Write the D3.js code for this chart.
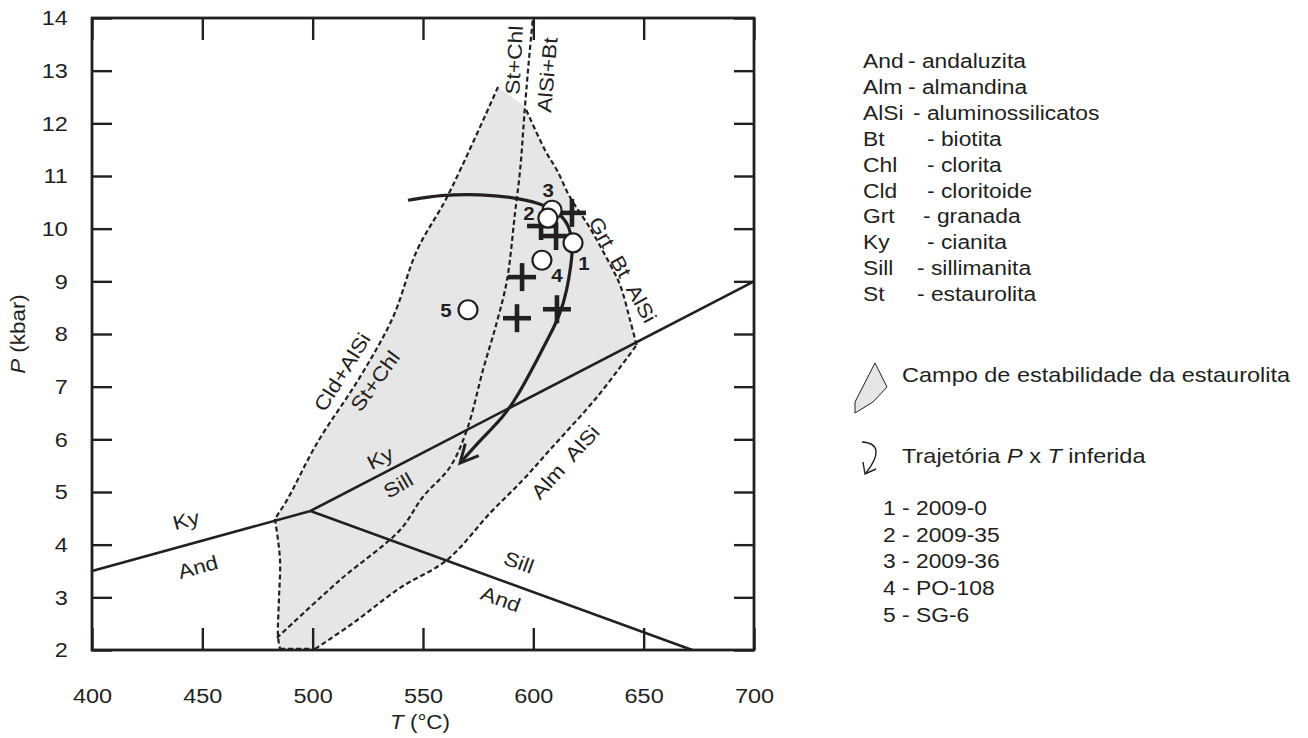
<!DOCTYPE html>
<html>
<head>
<meta charset="utf-8">
<script src="https://cdn.jsdelivr.net/npm/d3@7"></script>
<style>
  html, body { margin: 0; padding: 0; background: #fff; }
  svg text { font-family: "Liberation Sans", Arial, sans-serif; fill: #231f20; }
</style>
</head>
<body>
<svg id="chart" width="1308" height="738"></svg>
<script>
// axis ticks
const xTicks = [400, 450, 500, 550, 600, 650, 700];
const yTicks = [2, 3, 4, 5, 6, 7, 8, 9, 10, 11, 12, 13, 14];

// aluminosilicate reactions (T in °C, P in kbar)
const kyAnd = [[400, 3.5], [499, 4.64]];
const kySill = [[499, 4.64], [700, 9.0]];
const andSill = [[499, 4.64], [672, 2.0]];

// staurolite field boundaries
const cldUpper = [[584, 12.69], [560.9, 10.6], [547.3, 9.59], [536.4, 8.32], [521.4, 7.18], [502.0, 5.93], [488.4, 4.85], [482.9, 4.49]];
const cldLower = [[482.9, 4.49], [485.2, 3.71], [484.7, 2.95], [484.3, 2.25], [485.2, 2.02]];
const fieldBase = [[485.2, 2.02], [501.1, 2.02]];
const almAlsi = [[501.1, 2.02], [518.3, 2.51], [539.6, 3.18], [560.9, 3.71], [580.4, 4.6], [595.3, 5.23], [607.5, 5.8], [628.8, 6.8], [646.8, 7.79]];
const grtBtAlsi = [[646.8, 7.79], [643.8, 8.27], [639.3, 8.93], [632.5, 9.5], [625.7, 10.01], [616.6, 10.6], [610.7, 11.11], [605.3, 11.49], [596.2, 12.31]];
const stChl = [[483.8, 2.23], [512.4, 3.33], [539.6, 4.28], [550.0, 4.91], [562.2, 5.47], [569.9, 6.18], [577.2, 7.32], [583.5, 8.23], [588.1, 9.03], [591.7, 10.3], [594.0, 11.11], [596.2, 12.31], [598.0, 13.2], [599.8, 14.0]];

// inferred P-T path
const ptPath = [[543.2, 10.54], [557.7, 10.64], [575.8, 10.66], [594.0, 10.58], [605.3, 10.45], [613.0, 10.26], [616.6, 10.01], [618.0, 9.69], [617.1, 9.31], [615.3, 8.84], [612.1, 8.36], [607.5, 7.98], [601.7, 7.51], [592.6, 6.8], [586.3, 6.42], [577.2, 6.04], [566.8, 5.55]];

// crosses and samples
const crossPts = [[617.5, 10.30], [603.5, 10.05], [610.3, 9.86], [594.9, 9.08], [592.6, 8.30], [610.7, 8.47]];
const sampleIds = ["5", "4", "1", "3", "2"];
const sampleT = [570.4, 603.9, 618.0, 608.5, 606.6];
const sampleP = [8.46, 9.40, 9.73, 10.35, 10.20];
const sampleLabelOffset = [[-22, 0], [15, 15], [11, 20], [-4, -20], [-19, -5]];

// field labels
const fieldLabels = [
  { text: "St+Chl", T: 591.2, P: 13.20, rot: -87 },
  { text: "AlSi+Bt", T: 606.2, P: 12.92, rot: -85 },
  { text: "Grt  Bt  AlSi", T: 640.6, P: 9.22, rot: 61 },
  { text: "Cld+AlSi", T: 513.3, P: 7.28, rot: -58 },
  { text: "St+Chl", T: 528.2, P: 7.11, rot: -54 },
  { text: "Ky", T: 530.5, P: 5.65, rot: -27 },
  { text: "Sill", T: 538.7, P: 5.13, rot: -30 },
  { text: "Alm  AlSi", T: 614.4, P: 5.57, rot: -48 },
  { text: "Ky", T: 442.6, P: 4.47, rot: -15 },
  { text: "And", T: 448.0, P: 3.58, rot: -15 },
  { text: "Sill", T: 593.5, P: 3.67, rot: 20 },
  { text: "And", T: 585.3, P: 2.97, rot: 20 }
];

// legend
const legendAbbr = ["And", "Alm", "AlSi", "Bt", "Chl", "Cld", "Grt", "Ky", "Sill", "St"];
const legendName = ["andaluzita", "almandina", "aluminossilicatos", "biotita", "clorita", "cloritoide", "granada", "cianita", "sillimanita", "estaurolita"];
const legendDashX = [908, 908, 913, 927, 927, 927, 923, 927, 917, 917];
const sampleNames = ["2009-0", "2009-35", "2009-36", "PO-108", "SG-6"];

const INK = "#231f20";
const FIELD = "#e6e6e6";

const svg = d3.select("#chart");
const x = d3.scaleLinear().domain([400, 700]).range([92, 754]);
const y = d3.scaleLinear().domain([2, 14]).range([650, 18]);

const smooth = d3.line().x(d => x(d[0])).y(d => y(d[1])).curve(d3.curveCatmullRom.alpha(0.5));
const straight = d3.line().x(d => x(d[0])).y(d => y(d[1]));

// text drawn slightly wide, like the original lettering
function wideText(parent, px, py, size, stretch, rot) {
    return parent.append("text")
        .attr("transform", `translate(${px},${py}) rotate(${rot || 0}) scale(${stretch},1)`)
        .attr("font-size", size);
}

// field fill
function joinPaths(parts) {
    return parts.map((p, i) => i === 0 ? p : "L" + p.slice(1)).join("") + "Z";
}
svg.append("path")
    .attr("d", joinPaths([smooth(cldUpper), smooth(cldLower), straight(fieldBase), smooth(almAlsi), smooth(grtBtAlsi)]))
    .attr("fill", FIELD)
    .attr("stroke", "none");

// dashed boundaries
[cldUpper, cldLower, fieldBase, almAlsi, grtBtAlsi, stChl].forEach(seg => {
    svg.append("path")
        .attr("d", seg.length > 2 ? smooth(seg) : straight(seg))
        .attr("fill", "none")
        .attr("stroke", INK)
        .attr("stroke-width", 2.2)
        .attr("stroke-dasharray", "5,3");
});

// solid reaction lines
[kyAnd, kySill, andSill].forEach(seg => {
    svg.append("path")
        .attr("d", straight(seg))
        .attr("fill", "none")
        .attr("stroke", INK)
        .attr("stroke-width", 2.6);
});

// arrow marker
const defs = svg.append("defs");
defs.append("marker")
    .attr("id", "arrow")
    .attr("markerUnits", "userSpaceOnUse")
    .attr("viewBox", "-22 -12 26 24")
    .attr("refX", 0).attr("refY", 0)
    .attr("markerWidth", 26).attr("markerHeight", 24)
    .attr("orient", "auto")
  .append("path")
    .attr("d", "M-18,-9L0,0L-18,9")
    .attr("fill", "none")
    .attr("stroke", INK)
    .attr("stroke-width", 3);

svg.append("path")
    .attr("d", d3.line().x(d => x(d[0])).y(d => y(d[1])).curve(d3.curveBasis)(ptPath))
    .attr("fill", "none")
    .attr("stroke", INK)
    .attr("stroke-width", 3.2)
    .attr("marker-end", "url(#arrow)");

// crosses
const arm = 14;
crossPts.forEach(c => {
    const cx = x(c[0]), cy = y(c[1]);
    const g = svg.append("g").attr("stroke", INK).attr("stroke-width", 4.6);
    g.append("line").attr("x1", cx - arm).attr("x2", cx + arm).attr("y1", cy).attr("y2", cy);
    g.append("line").attr("x1", cx).attr("x2", cx).attr("y1", cy - arm).attr("y2", cy + arm);
});

// samples
sampleIds.forEach((id, i) => {
    const cx = x(sampleT[i]), cy = y(sampleP[i]);
    svg.append("circle")
        .attr("cx", cx).attr("cy", cy).attr("r", 9.5)
        .attr("fill", "#fff")
        .attr("stroke", INK)
        .attr("stroke-width", 2.2);
    wideText(svg, cx + sampleLabelOffset[i][0], cy + sampleLabelOffset[i][1], 19, 1.08)
        .attr("dy", "0.36em")
        .attr("text-anchor", "middle")
        .attr("font-weight", "bold")
        .text(id);
});

// field labels
fieldLabels.forEach(l => {
    wideText(svg, x(l.T), y(l.P), 20, 1.14, l.rot)
        .attr("text-anchor", "middle")
        .attr("dy", "0.36em")
        .style("white-space", "pre")
        .text(l.text);
});

// axes (ticks inward on all four sides)
svg.append("g")
    .attr("transform", "translate(0,650)")
    .call(d3.axisBottom(x).tickValues(xTicks).tickSizeInner(-22).tickSizeOuter(0).tickPadding(38));
svg.append("g")
    .attr("transform", "translate(92,0)")
    .call(d3.axisLeft(y).tickValues(yTicks).tickSizeInner(-20).tickSizeOuter(0).tickPadding(21.5));
svg.append("g")
    .attr("transform", "translate(0,18)")
    .call(d3.axisTop(x).tickValues(xTicks).tickSizeInner(-22).tickSizeOuter(0).tickFormat(""));
svg.append("g")
    .attr("transform", "translate(754,0)")
    .call(d3.axisRight(y).tickValues(yTicks).tickSizeInner(-20).tickSizeOuter(0).tickFormat(""));

svg.selectAll(".domain").remove();
svg.selectAll(".tick line").attr("stroke", INK).attr("stroke-width", 2.4);
svg.selectAll(".tick text")
    .attr("font-size", 21)
    .attr("font-family", "Liberation Sans, Arial, sans-serif")
    .attr("fill", INK)
    .attr("transform", "scale(1.12,1)");

svg.append("rect")
    .attr("x", 92).attr("y", 18)
    .attr("width", 662).attr("height", 632)
    .attr("fill", "none")
    .attr("stroke", INK)
    .attr("stroke-width", 2.8);

// axis titles
const xt = wideText(svg, 420, 729, 20, 1.12).attr("text-anchor", "middle");
xt.append("tspan").attr("font-style", "italic").text("T");
xt.append("tspan").text(" (°C)");

const yt = wideText(svg, 25, 334, 20, 1.12, -90).attr("text-anchor", "middle");
yt.append("tspan").attr("font-style", "italic").text("P");
yt.append("tspan").text(" (kbar)");

// legend: abbreviations
legendAbbr.forEach((a, i) => {
    const by = 68 + i * 25.9;
    wideText(svg, 863, by, 19.5, 1.17).text(a);
    wideText(svg, legendDashX[i], by, 19.5, 1.17).text("- " + legendName[i]);
});

// legend: field swatch
svg.append("path")
    .attr("d", "M875,363L887,387L873,402L855,413L855,402Z")
    .attr("fill", FIELD)
    .attr("stroke", INK)
    .attr("stroke-width", 1);
wideText(svg, 902, 382, 21, 1.12).text("Campo de estabilidade da estaurolita");

// legend: path symbol
svg.append("path")
    .attr("d", "M862,442C880,443 880,455 866,473")
    .attr("fill", "none")
    .attr("stroke", INK)
    .attr("stroke-width", 1.4);
svg.append("path")
    .attr("d", "M863,462L865,474L876,469")
    .attr("fill", "none")
    .attr("stroke", INK)
    .attr("stroke-width", 1.4);
const tr = wideText(svg, 902, 463, 21, 1.12);
tr.append("tspan").text("Trajetória ");
tr.append("tspan").attr("font-style", "italic").text("P");
tr.append("tspan").text(" x ");
tr.append("tspan").attr("font-style", "italic").text("T");
tr.append("tspan").text(" inferida");

// legend: sample list
sampleNames.forEach((n, i) => {
    wideText(svg, 883, 515 + i * 26.7, 19.5, 1.17).text((i + 1) + " - " + n);
});
</script>
</body>
</html>
